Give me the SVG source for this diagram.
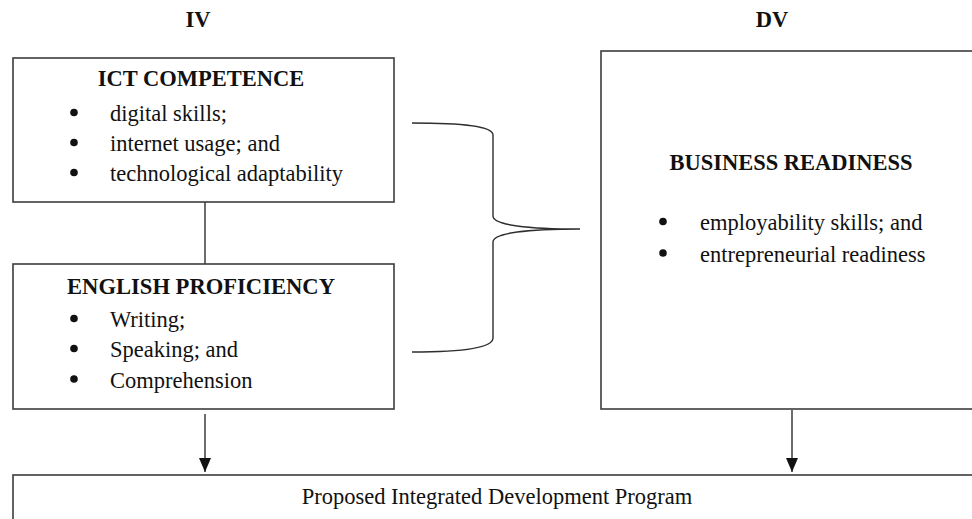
<svg xmlns="http://www.w3.org/2000/svg" width="972" height="519" viewBox="0 0 972 519">
  <defs>
    <marker id="arrow" markerWidth="14" markerHeight="12" refX="14" refY="6" orient="auto" markerUnits="userSpaceOnUse" viewBox="0 0 14 12">
      <path d="M0,0 L14,6 L0,12 Z" fill="#111"/>
    </marker>
    <style>
      .box { fill: #fff; stroke: #3c3c3c; stroke-width: 1.6; }
      .line { fill: none; stroke: #2e2e2e; stroke-width: 1.4; }
      .head { font-family: "Liberation Serif", "Times New Roman", serif; font-weight: bold; font-size: 22.5px; fill: #111; text-anchor: middle; }
      .item { font-family: "Liberation Serif", "Times New Roman", serif; font-size: 22.5px; fill: #111; }
      .dot { fill: #111; }
    </style>
  </defs>
  <rect width="972" height="519" fill="#fff"/>

  <!-- column captions -->
  <text class="head" x="198" y="27">IV</text>
  <text class="head" x="772" y="27">DV</text>

  <!-- connectors -->
  <g id="connectors">
    <line class="line" x1="205" y1="202" x2="205" y2="264"/>
    <path class="line" d="M412,123 C462,123 493,126 493,135 L493,216 C493,225 528,229 580,229 C528,229 493,233 493,242 L493,338 C493,348 462,352 412,352"/>
    <line class="line" x1="205" y1="414" x2="205" y2="472" marker-end="url(#arrow)"/>
    <line class="line" x1="792" y1="410" x2="792" y2="472" marker-end="url(#arrow)"/>
  </g>

  <!-- independent variable: ICT competence -->
  <g id="ict">
    <rect class="box" x="13" y="58" width="381" height="144"/>
    <text class="head" x="201" y="86">ICT COMPETENCE</text>
    <circle class="dot" cx="74" cy="112.5" r="3.8"/>
    <text class="item" x="110" y="121">digital skills;</text>
    <circle class="dot" cx="74" cy="142.5" r="3.8"/>
    <text class="item" x="110" y="151">internet usage; and</text>
    <circle class="dot" cx="74" cy="172.5" r="3.8"/>
    <text class="item" x="110" y="181">technological adaptability</text>
  </g>

  <!-- independent variable: English proficiency -->
  <g id="english">
    <rect class="box" x="13" y="264" width="381" height="145"/>
    <text class="head" x="201" y="294" textLength="268" lengthAdjust="spacingAndGlyphs">ENGLISH PROFICIENCY</text>
    <circle class="dot" cx="74" cy="318.5" r="3.8"/>
    <text class="item" x="110" y="327">Writing;</text>
    <circle class="dot" cx="74" cy="348.5" r="3.8"/>
    <text class="item" x="110" y="357">Speaking; and</text>
    <circle class="dot" cx="74" cy="379" r="3.8"/>
    <text class="item" x="110" y="388">Comprehension</text>
  </g>

  <!-- dependent variable: business readiness -->
  <g id="business">
    <rect class="box" x="601" y="51" width="380" height="358"/>
    <text class="head" x="791" y="170">BUSINESS READINESS</text>
    <circle class="dot" cx="663" cy="221.5" r="3.8"/>
    <text class="item" x="700" y="230">employability skills; and</text>
    <circle class="dot" cx="663" cy="253" r="3.8"/>
    <text class="item" x="700" y="262">entrepreneurial readiness</text>
  </g>

  <!-- output -->
  <g id="program">
    <rect class="box" x="13" y="475" width="968" height="60"/>
    <text class="item" x="497" y="504" text-anchor="middle">Proposed Integrated Development Program</text>
  </g>
</svg>
